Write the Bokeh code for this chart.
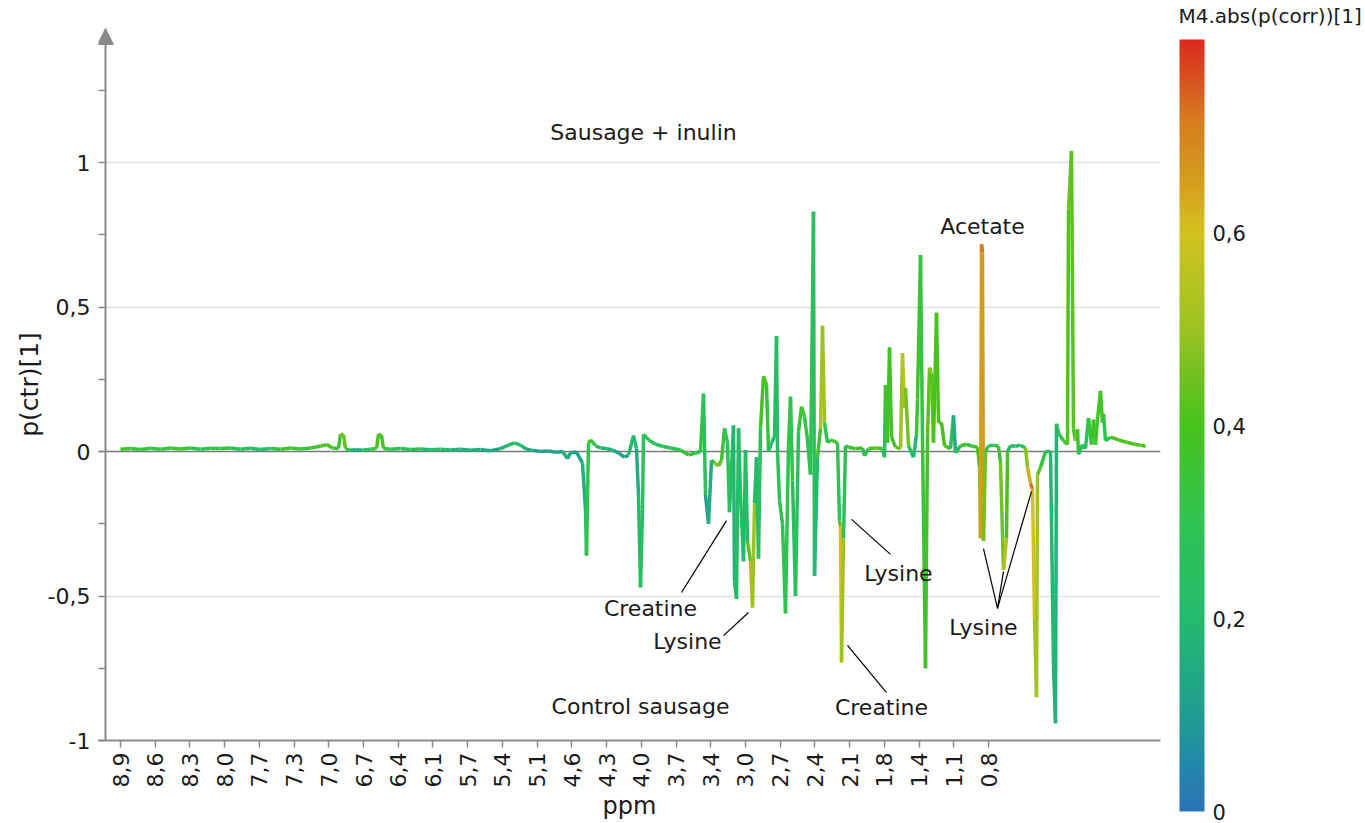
import math
import numpy as np
from bokeh.plotting import figure
from bokeh.models import (Range1d, FixedTicker, CustomJSTickFormatter, Span, Arrow,
                          NormalHead, LinearColorMapper, ColumnDataSource, ColorBar, Title)
from bokeh.embed import file_html
from bokeh.resources import INLINE
from bokeh.core.properties import value

# ---------------- data ----------------
ppm_labels = ["8,9", "8,6", "8,3", "8,0", "7,7", "7,3", "7,0", "6,7", "6,4", "6,1",
              "5,7", "5,4", "5,1", "4,6", "4,3", "4,0", "3,7", "3,4", "3,0", "2,7",
              "2,4", "2,1", "1,8", "1,4", "1,1", "0,8"]
TICK_STEP = 34.72  # variables between labelled ppm ticks

# variable index along the spectrum
var_index = [0, 10, 20, 30, 40, 50, 60, 70, 80, 90, 100, 110, 120, 130, 140, 150, 160, 170, 180, 190,
             200, 206, 212, 218, 220, 223, 225, 230, 236, 242, 250, 256, 258, 261, 263, 270, 280, 290,
             300, 310, 320, 330, 340, 350, 360, 370, 380, 388, 394, 400, 406, 412, 420, 428, 436, 442,
             447, 450, 456, 462, 465, 466, 468, 470, 475, 480, 486, 492, 498, 504, 508, 513, 516, 518,
             520, 522, 523, 528, 535, 542, 550, 560, 568, 575, 580, 583, 585, 588, 591, 594, 598, 601,
             604, 607, 609, 613, 614, 616, 618, 620, 623, 625, 627, 630, 632, 634, 636, 638, 640, 643,
             646, 648, 651, 654, 656, 657, 659, 662, 665, 668, 670, 672, 675, 678, 681, 684, 687, 690,
             693, 694, 697, 700, 702, 704, 707, 710, 714, 717, 719, 720, 721, 723, 725, 728, 735, 742,
             744, 748, 755, 762, 764, 765, 767, 769, 771, 775, 780, 782, 784, 785, 788, 793, 796, 797,
             800, 802, 805, 807, 809, 811, 813, 816, 818, 821, 824, 830, 833, 835, 840, 846, 852, 857,
             859, 860, 861, 862, 863, 865, 868, 873, 878, 880, 883, 886, 887, 890, 895, 900, 905, 907,
             910, 912, 914, 916, 917, 920, 925, 930, 933, 935, 936, 938, 943, 947, 948, 951, 953, 955,
             957, 958, 962, 965, 968, 971, 973, 975, 977, 980, 982, 983, 985, 990, 998, 1006, 1014,
             1020, 1025]

# p(ctr)[1] loading
p_ctr = [0.008, 0.010, 0.007, 0.011, 0.008, 0.012, 0.009, 0.012, 0.008, 0.011, 0.010, 0.012, 0.008,
         0.011, 0.007, 0.010, 0.008, 0.012, 0.009, 0.012, 0.018, 0.024, 0.012, 0.010, 0.060, 0.058,
         0.010, 0.004, 0.006, 0.004, 0.008, 0.010, 0.060, 0.056, 0.010, 0.008, 0.010, 0.007, 0.009,
         0.006, 0.008, 0.005, 0.008, 0.004, 0.007, 0.003, 0.010, 0.022, 0.030, 0.022, 0.008, 0.004,
         0.000, 0.002, -0.003, 0.000, -0.025, -0.004, -0.002, -0.040, -0.200, -0.360, 0.030, 0.040,
         0.020, 0.012, 0.010, 0.005, -0.005, -0.020, -0.012, 0.055, 0.010, -0.150, -0.470, -0.200,
         0.060, 0.040, 0.025, 0.018, 0.012, 0.005, -0.012, -0.005, 0.000, 0.200, -0.150, -0.250,
         -0.030, -0.040, -0.050, -0.030, 0.080, 0.030, -0.210, 0.090, -0.450, -0.510, 0.080, -0.150,
         -0.380, 0.005, -0.310, -0.380, -0.540, -0.180, -0.020, -0.370, 0.080, 0.260, 0.230, 0.000,
         0.030, 0.050, 0.400, 0.000, -0.170, -0.250, -0.560, 0.020, 0.190, -0.100, -0.500, 0.070,
         0.155, 0.120, 0.040, -0.080, 0.830, -0.430, -0.020, 0.080, 0.435, 0.100, 0.030, 0.040,
         0.035, 0.030, -0.240, -0.260, -0.730, -0.300, 0.020, 0.015, 0.010, 0.012, -0.015, 0.010,
         0.012, 0.010, -0.020, 0.230, 0.030, 0.360, 0.050, 0.015, 0.010, 0.340, 0.150, 0.220, 0.020,
         -0.020, 0.060, 0.180, 0.680, 0.040, -0.750, 0.050, 0.290, 0.270, 0.030, 0.480, 0.100, 0.100,
         0.020, 0.010, 0.125, -0.005, 0.020, 0.025, 0.018, 0.015, -0.050, -0.300, 0.717, 0.690,
         -0.310, 0.000, 0.020, 0.022, 0.018, -0.040, -0.410, -0.300, 0.000, 0.020, 0.018, 0.022,
         0.012, -0.055, -0.110, -0.130, -0.580, -0.850, -0.080, -0.055, 0.000, 0.000, -0.740, -0.940,
         0.096, 0.063, 0.037, 0.024, 0.836, 1.040, 0.077, 0.037, 0.077, -0.010, 0.024, 0.010, 0.116,
         0.024, 0.110, 0.024, 0.110, 0.210, 0.100, 0.130, 0.037, 0.050, 0.040, 0.032, 0.025, 0.022,
         0.018]

# M4.abs(p(corr))[1]
abs_pcorr = [0.36, 0.38, 0.30, 0.38, 0.25, 0.40, 0.32, 0.38, 0.22, 0.36, 0.30, 0.38, 0.18, 0.30, 0.15,
             0.28, 0.34, 0.40, 0.30, 0.36, 0.40, 0.42, 0.36, 0.30, 0.42, 0.48, 0.40, 0.20, 0.12, 0.20,
             0.30, 0.38, 0.42, 0.40, 0.36, 0.30, 0.25, 0.30, 0.22, 0.18, 0.25, 0.14, 0.20, 0.12, 0.18,
             0.10, 0.16, 0.20, 0.22, 0.20, 0.15, 0.12, 0.10, 0.12, 0.10, 0.14, 0.20, 0.12, 0.10, 0.14,
             0.20, 0.26, 0.36, 0.40, 0.25, 0.18, 0.20, 0.14, 0.12, 0.10, 0.12, 0.28, 0.15, 0.15, 0.25,
             0.22, 0.30, 0.28, 0.25, 0.28, 0.25, 0.30, 0.38, 0.30, 0.25, 0.40, 0.12, 0.10, 0.20, 0.45,
             0.50, 0.35, 0.35, 0.25, 0.32, 0.15, 0.20, 0.25, 0.20, 0.25, 0.25, 0.15, 0.30, 0.55, 0.70,
             0.30, 0.20, 0.18, 0.35, 0.40, 0.40, 0.30, 0.15, 0.20, 0.22, 0.25, 0.30, 0.30, 0.30, 0.30,
             0.35, 0.25, 0.22, 0.30, 0.38, 0.35, 0.30, 0.28, 0.30, 0.20, 0.20, 0.50, 0.55, 0.45, 0.15,
             0.35, 0.40, 0.30, 0.30, 0.58, 0.62, 0.40, 0.15, 0.35, 0.40, 0.38, 0.15, 0.40, 0.42, 0.40,
             0.10, 0.40, 0.35, 0.40, 0.35, 0.40, 0.45, 0.55, 0.55, 0.50, 0.40, 0.10, 0.30, 0.40, 0.36,
             0.30, 0.40, 0.35, 0.50, 0.45, 0.40, 0.40, 0.40, 0.40, 0.40, 0.38, 0.15, 0.15, 0.38, 0.36,
             0.30, 0.40, 0.40, 0.58, 0.72, 0.72, 0.60, 0.30, 0.35, 0.20, 0.38, 0.35, 0.55, 0.50, 0.30,
             0.15, 0.25, 0.20, 0.40, 0.55, 0.70, 0.75, 0.45, 0.58, 0.45, 0.40, 0.25, 0.20, 0.18, 0.15,
             0.20, 0.30, 0.35, 0.38, 0.45, 0.45, 0.40, 0.35, 0.60, 0.15, 0.35, 0.15, 0.38, 0.30, 0.40,
             0.35, 0.40, 0.40, 0.38, 0.40, 0.20, 0.40, 0.40, 0.40, 0.42, 0.40, 0.40]

# annotation texts and where they sit (variable index, loading)
ann_text = ["Sausage + inulin", "Control sausage", "Acetate", "Creatine", "Lysine",
            "Lysine", "Creatine", "Lysine"]
ann_x = [523, 520, 862, 530, 567, 778, 761, 863]
ann_y = [1.104, -0.882, 0.779, -0.543, -0.657, -0.422, -0.886, -0.609]

# leader lines from labels to peaks
lead_x0 = [606, 628, 731, 727, 877, 877, 877]
lead_y0 = [-0.239, -0.557, -0.235, -0.671, -0.543, -0.543, -0.543]
lead_x1 = [561, 603, 770, 766, 863, 883, 911]
lead_y1 = [-0.488, -0.637, -0.356, -0.834, -0.336, -0.415, -0.138]

colorbar_title = "M4.abs(p(corr))[1]"

# ---------------- style ----------------
FONT = "DejaVu Sans"
GRAY = "#8a8a8a"
TXT = "#1a1a1a"

cm_pos = [0.00, 0.05, 0.10, 0.20, 0.30, 0.40, 0.45, 0.50, 0.60, 0.65, 0.72, 0.80]
cm_hex = ["#2a74b8", "#2189a8", "#1f9e91", "#22bb6e", "#2fc350", "#46c31c", "#70c220",
          "#9bc320", "#d3c21f", "#d4a01c", "#d67a1e", "#dc2a1e"]
rgb = np.array([[int(h[i:i + 2], 16) for i in (1, 3, 5)] for h in cm_hex], float)
grid = np.linspace(0, 0.8, 256)
palette = ["#%02x%02x%02x" % tuple(int(round(np.interp(g, cm_pos, rgb[:, k]))) for k in range(3))
           for g in grid]
mapper = LinearColorMapper(palette=palette, low=0, high=0.8)

x = np.array(var_index, float)
y = np.array(p_ctr, float)
c = np.array(abs_pcorr, float)
seg = ColumnDataSource(dict(x0=x[:-1], y0=y[:-1], x1=x[1:], y1=y[1:], c=(c[:-1] + c[1:]) / 2))

Y_TOP = 1.4637
p = figure(width=1365, height=823, x_range=Range1d(-22, 1040), y_range=Range1d(-1, Y_TOP),
           output_backend="svg", toolbar_location=None,
           min_border_left=98, min_border_right=205, min_border_top=28, min_border_bottom=83)
p.outline_line_color = None
p.background_fill_color = "white"
p.xgrid.visible = False
p.ygrid.ticker = FixedTicker(ticks=[-0.5, 0.5, 1])
p.ygrid.grid_line_color = "#e2e2e2"
p.ygrid.grid_line_width = 1.5
p.add_layout(Span(location=0, dimension="width", line_color="#7a7a7a", line_width=1.5,
                  level="underlay"))

p.segment("x0", "y0", "x1", "y1", source=seg, line_width=3.5,
          line_color={"field": "c", "transform": mapper})

# y axis (line drawn as an arrow; ticks point left from it)
yax = p.yaxis[0]
yax.ticker = FixedTicker(ticks=[-1, -0.5, 0, 0.5, 1], minor_ticks=[-0.75, -0.25, 0.25, 0.75, 1.25])
yax.formatter = CustomJSTickFormatter(code="return tick.toString().replace('.', ',');")
yax.axis_label = "p(ctr)[1]"
yax.axis_line_color = None
yax.major_tick_in = 7
yax.major_tick_out = 0
yax.minor_tick_in = 7
yax.minor_tick_out = 0
yax.major_label_standoff = 8
yax.axis_label_standoff = 1

# x axis
xax = p.xaxis[0]
xax.ticker = FixedTicker(ticks=[k * TICK_STEP for k in range(len(ppm_labels))], minor_ticks=[])
xax.formatter = CustomJSTickFormatter(args=dict(labels=ppm_labels, step=TICK_STEP),
                                      code="return labels[Math.round(tick / step)];")
xax.major_label_orientation = math.pi / 2
xax.axis_label = "ppm"
xax.axis_line_color = GRAY
xax.axis_line_width = 2
xax.major_tick_in = 0
xax.major_tick_out = 7
xax.major_label_standoff = 5
xax.axis_label_standoff = 2

for ax in (xax, yax):
    ax.major_tick_line_color = GRAY
    ax.major_tick_line_width = 1.5
    ax.minor_tick_line_color = GRAY
    ax.minor_tick_line_width = 1.5
    ax.major_label_text_font = FONT
    ax.major_label_text_font_size = "22px"
    ax.major_label_text_color = TXT
    ax.axis_label_text_font = FONT
    ax.axis_label_text_font_style = "normal"
    ax.axis_label_text_color = TXT
xax.axis_label_text_font_size = "24px"
yax.axis_label_text_font_size = "25px"

p.add_layout(Arrow(end=NormalHead(size=16, fill_color=GRAY, line_color=GRAY),
                   x_start=-15, y_start=-1, x_end=-15, y_end=Y_TOP,
                   line_color=GRAY, line_width=2))

p.segment(lead_x0, lead_y0, lead_x1, lead_y1, line_color="black", line_width=1.2)
p.text(x=ann_x, y=ann_y, text=ann_text, text_font=value(FONT), text_font_size="22px",
       text_align="center", text_baseline="middle", text_color=TXT)

# ---------------- colour bar ----------------
cb = ColorBar(color_mapper=mapper, width=25, height=772, location=(1081, -71),
              ticker=FixedTicker(ticks=[0, 0.2, 0.4, 0.6]),
              formatter=CustomJSTickFormatter(code="return tick.toString().replace('.', ',');"),
              major_label_text_font=FONT, major_label_text_font_size="21px",
              major_label_text_color=TXT, label_standoff=8,
              major_tick_line_color=None, minor_tick_line_color=None, bar_line_color=None,
              padding=0, margin=0, background_fill_color=None, border_line_color=None)
p.add_layout(cb)
p.add_layout(Title(text=colorbar_title, align="left", offset=1080, standoff=2,
                   text_font=FONT, text_font_size="20px", text_font_style="normal",
                   text_color=TXT), "above")

open("out.html", "w").write(file_html(p, INLINE))
